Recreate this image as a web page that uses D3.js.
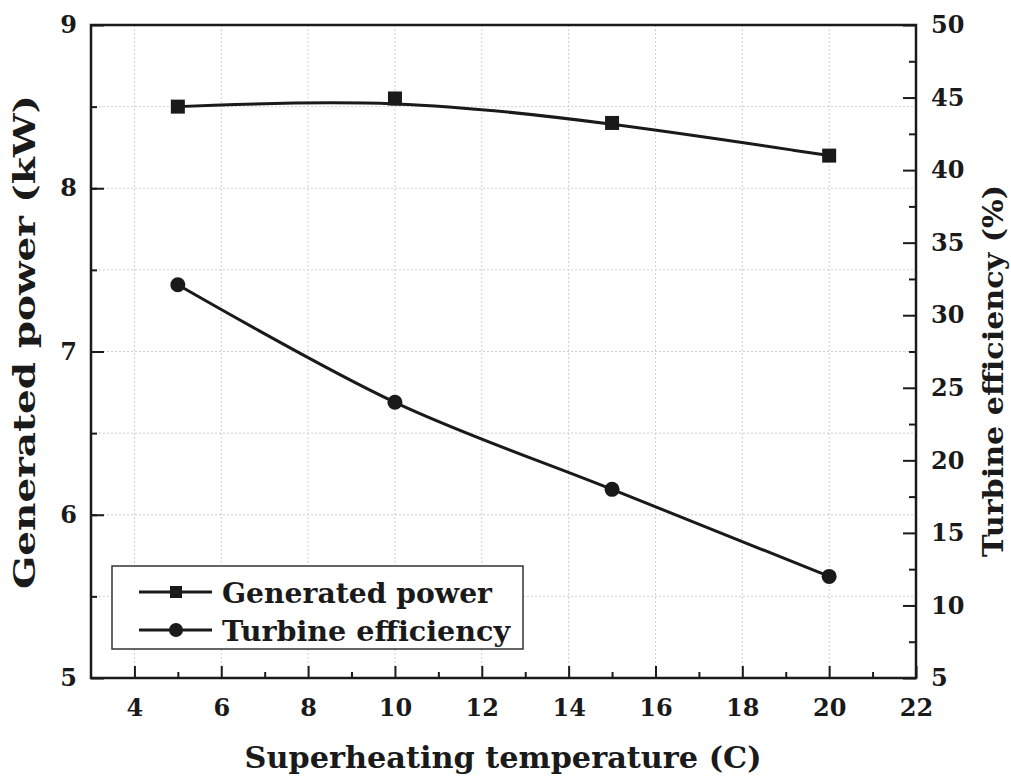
<!DOCTYPE html>
<html>
<head>
<meta charset="utf-8">
<script src="https://cdn.jsdelivr.net/npm/d3@7"></script>
<style>
  body { margin: 0; background: #fff; }
  svg text { font-family: "DejaVu Serif", "Liberation Serif", serif; font-weight: bold; fill: #1a1a1a; }
</style>
</head>
<body>
<svg id="chart" width="1011" height="778"></svg>
<script>
// Data
const superheat = [5, 10, 15, 20];
const generatedPower = [8.5, 8.55, 8.4, 8.2];      // kW, left axis
const turbineEfficiency = [32.1, 24.0, 18.0, 12.0]; // %, right axis

const xTicks = [4, 6, 8, 10, 12, 14, 16, 18, 20, 22];
const yLeftTicks = [5, 6, 7, 8, 9];
const yRightTicks = [5, 10, 15, 20, 25, 30, 35, 40, 45, 50];

const seriesNames = ["Generated power", "Turbine efficiency"];

const margin = { top: 25, right: 95, bottom: 100, left: 91 };
const W = 1011, H = 778;
const width = W - margin.left - margin.right;
const height = H - margin.top - margin.bottom;

const svg = d3.select("#chart");
const g = svg.append("g").attr("transform", `translate(${margin.left},${margin.top})`);

const x = d3.scaleLinear().domain([3, 22]).range([0, width]);
const yL = d3.scaleLinear().domain([5, 9]).range([height, 0]);
const yR = d3.scaleLinear().domain([5, 50]).range([height, 0]);

const ink = "#1a1a1a";

// gridlines (dotted, light)
g.append("g")
    .selectAll("line")
    .data(xTicks.filter(d => d < 22))
    .enter().append("line")
    .attr("x1", d => x(d)).attr("x2", d => x(d))
    .attr("y1", 0).attr("y2", height)
    .attr("stroke", "#cfcfcf").attr("stroke-width", 1).attr("stroke-dasharray", "2 2");

g.append("g")
    .selectAll("line")
    .data(d3.range(5.5, 9, 0.5))
    .enter().append("line")
    .attr("x1", 0).attr("x2", width)
    .attr("y1", d => yL(d)).attr("y2", d => yL(d))
    .attr("stroke", "#cfcfcf").attr("stroke-width", 1).attr("stroke-dasharray", "2 2");

// axes with inward ticks
g.append("g")
    .attr("class", "lab")
    .attr("transform", `translate(0,${height})`)
    .call(d3.axisBottom(x).tickValues(xTicks).tickSize(-12).tickPadding(21).tickFormat(d3.format("d")));
g.append("g")
    .attr("transform", `translate(0,${height})`)
    .call(d3.axisBottom(x).tickValues(d3.range(5, 22, 2)).tickSize(-6).tickFormat(""));

g.append("g")
    .attr("class", "lab")
    .call(d3.axisLeft(yL).tickValues(yLeftTicks).tickSize(-13).tickPadding(14).tickFormat(d3.format("d")));
g.append("g")
    .call(d3.axisLeft(yL).tickValues(d3.range(5.5, 9, 0.5)).tickSize(-6).tickFormat(""));

g.append("g")
    .attr("class", "lab")
    .attr("transform", `translate(${width},0)`)
    .call(d3.axisRight(yR).tickValues(yRightTicks).tickSize(-13).tickPadding(15).tickFormat(d3.format("d")));
g.append("g")
    .attr("transform", `translate(${width},0)`)
    .call(d3.axisRight(yR).tickValues(d3.range(7.5, 50, 5)).tickSize(-7).tickFormat(""));

g.selectAll(".domain").remove();
g.selectAll(".tick line").attr("stroke", ink).attr("stroke-width", 2);
g.selectAll(".tick text").style("font-size", "24px").attr("fill", ink);

// frame
g.append("rect")
    .attr("x", 0).attr("y", 0).attr("width", width).attr("height", height)
    .attr("fill", "none").attr("stroke", ink).attr("stroke-width", 2.5);

// series lines
const powerLine = d3.line()
    .x((d, i) => x(superheat[i]))
    .y(d => yL(d))
    .curve(d3.curveBasis);
const effLine = d3.line()
    .x((d, i) => x(superheat[i]))
    .y(d => yR(d))
    .curve(d3.curveCatmullRom);

g.append("path").datum(generatedPower)
    .attr("d", powerLine).attr("fill", "none").attr("stroke", ink).attr("stroke-width", 3);
g.append("path").datum(turbineEfficiency)
    .attr("d", effLine).attr("fill", "none").attr("stroke", ink).attr("stroke-width", 3);

// markers
g.selectAll(".sq").data(generatedPower).enter().append("rect")
    .attr("x", (d, i) => x(superheat[i]) - 7)
    .attr("y", d => yL(d) - 7)
    .attr("width", 14).attr("height", 14).attr("fill", ink);
g.selectAll(".ci").data(turbineEfficiency).enter().append("circle")
    .attr("cx", (d, i) => x(superheat[i]))
    .attr("cy", d => yR(d))
    .attr("r", 7.5).attr("fill", ink);

// axis titles
svg.append("text")
    .attr("x", 503).attr("y", 768)
    .attr("text-anchor", "middle").style("font-size", "29px")
    .attr("textLength", 517).attr("lengthAdjust", "spacingAndGlyphs")
    .text("Superheating temperature (C)");
svg.append("text")
    .attr("transform", "translate(35,342) rotate(-90)")
    .attr("text-anchor", "middle").style("font-size", "29px")
    .attr("textLength", 494).attr("lengthAdjust", "spacingAndGlyphs")
    .text("Generated power (kW)");
svg.append("text")
    .attr("transform", "translate(1003,371) rotate(-90)")
    .attr("text-anchor", "middle").style("font-size", "27px")
    .attr("textLength", 372).attr("lengthAdjust", "spacingAndGlyphs")
    .text("Turbine efficiency (%)");

// legend
const legend = g.append("g").attr("transform", "translate(21,541)");
legend.append("rect")
    .attr("x", 0).attr("y", 0).attr("width", 411).attr("height", 83)
    .attr("fill", "#fff").attr("stroke", "#333").attr("stroke-width", 1.5);

const legendWidths = [270, 288];
seriesNames.forEach((name, i) => {
    const row = legend.append("g").attr("transform", `translate(0,${26 + i * 38})`);
    row.append("line")
        .attr("x1", 27).attr("x2", 100).attr("y1", 0).attr("y2", 0)
        .attr("stroke", ink).attr("stroke-width", 3);
    if (i === 0) {
        row.append("rect").attr("x", 58).attr("y", -6).attr("width", 12).attr("height", 12).attr("fill", ink);
    } else {
        row.append("circle").attr("cx", 64).attr("cy", 0).attr("r", 7).attr("fill", ink);
    }
    row.append("text")
        .attr("x", 110).attr("y", 11)
        .style("font-size", "28px")
        .attr("textLength", legendWidths[i]).attr("lengthAdjust", "spacingAndGlyphs")
        .text(name);
});
</script>
</body>
</html>
